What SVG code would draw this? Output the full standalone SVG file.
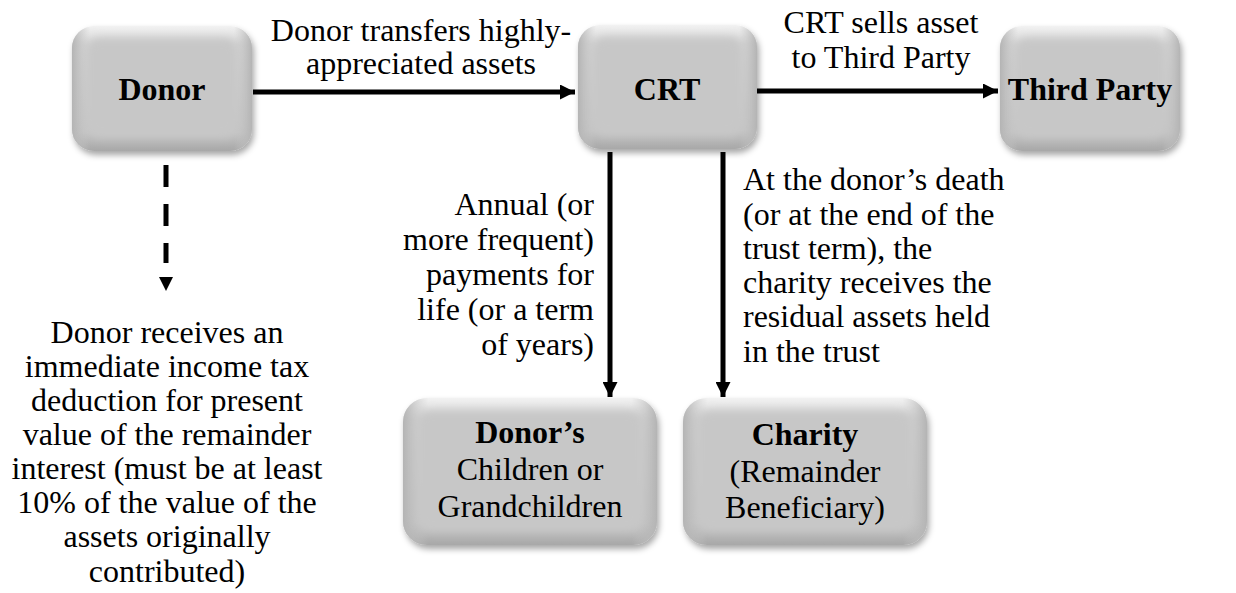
<svg xmlns="http://www.w3.org/2000/svg" width="1236" height="593" viewBox="0 0 1236 593">
<defs>
<style>
text{font-family:'Liberation Serif','Times New Roman','DejaVu Serif',serif;font-size:32px;fill:#000}
.b{font-weight:bold}
.c{text-anchor:middle}
.r{text-anchor:end}
.ln{stroke:#000;stroke-width:5;fill:none}
</style>
<linearGradient id="gOuter" x1="0" y1="0" x2="0" y2="1">
<stop offset="0" stop-color="#f2f2f2"/>
<stop offset="0.15" stop-color="#d4d4d4"/>
<stop offset="0.85" stop-color="#c4c4c4"/>
<stop offset="1" stop-color="#a8a8a8"/>
</linearGradient>
<linearGradient id="gSide" x1="0" y1="0" x2="1" y2="0">
<stop offset="0" stop-color="#b4b4b4"/>
<stop offset="0.1" stop-color="#c8c8c8" stop-opacity="0"/>
<stop offset="0.9" stop-color="#c8c8c8" stop-opacity="0"/>
<stop offset="1" stop-color="#b4b4b4"/>
</linearGradient>
<filter id="shadow" x="-10%" y="-10%" width="125%" height="130%">
<feDropShadow dx="2" dy="4" stdDeviation="3" flood-color="#000" flood-opacity="0.35"/>
</filter>
<filter id="soft" x="-10%" y="-10%" width="120%" height="120%">
<feGaussianBlur stdDeviation="4"/>
</filter>
<marker id="ah" viewBox="0 0 10 10" refX="10" refY="5" markerWidth="3.2" markerHeight="3" orient="auto" markerUnits="strokeWidth">
<path d="M0,0 L10,5 L0,10 z" fill="#000"/>
</marker>
</defs>

<g id="connectors">
<line class="ln" x1="253" y1="92" x2="575" y2="92" marker-end="url(#ah)"/>
<line class="ln" x1="757" y1="91" x2="998" y2="91" marker-end="url(#ah)"/>
<line class="ln" x1="610" y1="152" x2="610" y2="397" marker-end="url(#ah)"/>
<line class="ln" x1="723" y1="152" x2="723" y2="397" marker-end="url(#ah)"/>
<line class="ln" x1="166" y1="165" x2="166" y2="263" stroke-dasharray="22 17"/>
<path d="M159,277 L173,277 L166,291 z" fill="#000"/>
</g>

<g id="labels" font-family="Liberation Serif, Times New Roman, serif">
<text class="c" x="421" y="41">Donor transfers highly-</text>
<text class="c" x="421" y="74">appreciated assets</text>
<text class="c" x="881" y="33">CRT sells asset</text>
<text class="c" x="881" y="68">to Third Party</text>
<text class="r" x="594" y="215">Annual (or</text>
<text class="r" x="594" y="250">more frequent)</text>
<text class="r" x="594" y="285">payments for</text>
<text class="r" x="594" y="320">life (or a term</text>
<text class="r" x="594" y="355">of years)</text>
<text x="743" y="190">At the donor’s death</text>
<text x="743" y="225">(or at the end of the</text>
<text x="743" y="259">trust term), the</text>
<text x="743" y="293">charity receives the</text>
<text x="743" y="327">residual assets held</text>
<text x="743" y="362">in the trust</text>
<text class="c" x="167" y="343">Donor receives an</text>
<text class="c" x="167" y="377">immediate income tax</text>
<text class="c" x="167" y="411">deduction for present</text>
<text class="c" x="167" y="445">value of the remainder</text>
<text class="c" x="167" y="479">interest (must be at least</text>
<text class="c" x="167" y="513">10% of the value of the</text>
<text class="c" x="167" y="547">assets originally</text>
<text class="c" x="167" y="582">contributed)</text>
</g>

<g id="node-donor">
<rect x="72" y="26" width="180" height="125" rx="22" fill="url(#gOuter)" filter="url(#shadow)"/>
<rect x="72" y="26" width="180" height="125" rx="22" fill="url(#gSide)"/>
<rect x="86" y="38" width="152" height="100" rx="14" fill="#c7c7c7" filter="url(#soft)"/>
<text class="b c" x="162" y="100">Donor</text>
</g>

<g id="node-crt">
<rect x="578" y="25" width="179" height="124" rx="22" fill="url(#gOuter)" filter="url(#shadow)"/>
<rect x="578" y="25" width="179" height="124" rx="22" fill="url(#gSide)"/>
<rect x="592" y="37" width="151" height="99" rx="14" fill="#c7c7c7" filter="url(#soft)"/>
<text class="b c" x="667" y="100">CRT</text>
</g>

<g id="node-third-party">
<rect x="1000" y="26" width="180" height="125" rx="22" fill="url(#gOuter)" filter="url(#shadow)"/>
<rect x="1000" y="26" width="180" height="125" rx="22" fill="url(#gSide)"/>
<rect x="1014" y="38" width="152" height="100" rx="14" fill="#c7c7c7" filter="url(#soft)"/>
<text class="b c" x="1090" y="100">Third Party</text>
</g>

<g id="node-children">
<rect x="403" y="398" width="254" height="147" rx="24" fill="url(#gOuter)" filter="url(#shadow)"/>
<rect x="403" y="398" width="254" height="147" rx="24" fill="url(#gSide)"/>
<rect x="417" y="410" width="226" height="122" rx="14" fill="#c7c7c7" filter="url(#soft)"/>
<text class="b c" x="530" y="443">Donor’s</text>
<text class="c" x="530" y="480">Children or</text>
<text class="c" x="530" y="517">Grandchildren</text>
</g>

<g id="node-charity">
<rect x="683" y="398" width="244" height="147" rx="24" fill="url(#gOuter)" filter="url(#shadow)"/>
<rect x="683" y="398" width="244" height="147" rx="24" fill="url(#gSide)"/>
<rect x="697" y="410" width="216" height="122" rx="14" fill="#c7c7c7" filter="url(#soft)"/>
<text class="b c" x="805" y="445">Charity</text>
<text class="c" x="805" y="482">(Remainder</text>
<text class="c" x="805" y="518">Beneficiary)</text>
</g>
</svg>
